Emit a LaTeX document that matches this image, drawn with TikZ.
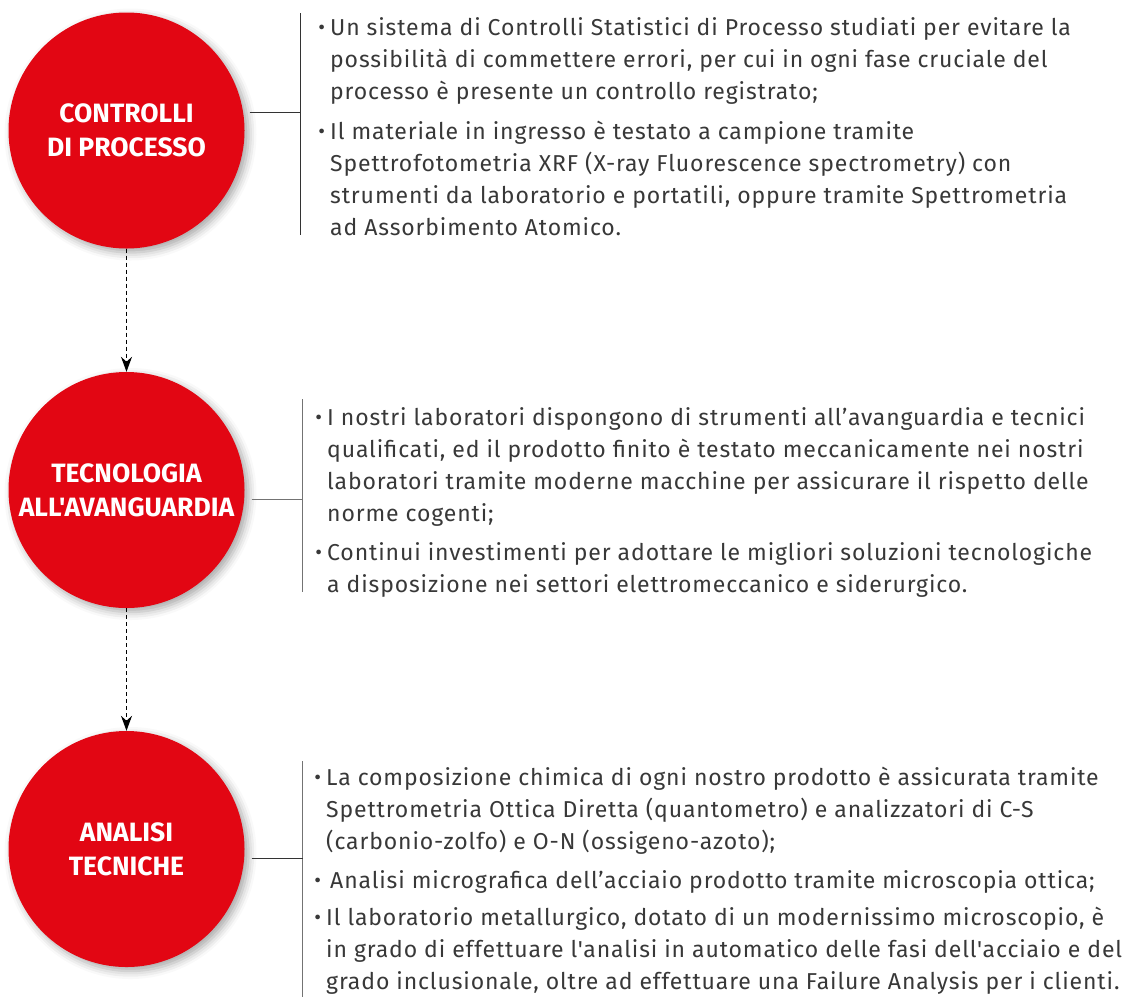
\documentclass[tikz,border=0pt]{standalone}
\usepackage{fontspec}
\setmainfont{Fira Sans}[Ligatures=TeXOff]
\newfontfamily\bodyfont{Fira Sans}[Ligatures=TeXOff, LetterSpace=3.8]
\usetikzlibrary{arrows.meta,shadows.blur}
\definecolor{cred}{RGB}{226,6,19}
\newcommand\bul{\llap{\raisebox{1pt}{\scalebox{0.9}{\textbullet}}\hspace{5pt}}}
\tikzset{
 circ/.style={circle, fill=cred, minimum size=236pt, inner sep=0pt, text=white,
   font=\bfseries\fontsize{26.5}{34}\selectfont, align=center,
   blur shadow={shadow xshift=4pt, shadow yshift=-4pt, shadow blur radius=8pt, shadow opacity=35}},
 item/.style={anchor=base west, inner sep=0pt, align=left, font=\bodyfont\fontsize{23}{32}\selectfont, text=black!78},
 flow/.style={dash pattern=on 4pt off 3pt, line width=1.1pt, -{Stealth[length=15pt,width=11pt]}},
 brk/.style={line width=1pt, draw=black!55}
}
\begin{document}
\begin{tikzpicture}[x=1pt,y=-1pt]
\useasboundingbox (0,0) rectangle (1126,997);
% circles
\node[circ] (c1) at (126.5,130.5) {CONTROLLI\\DI PROCESSO};
\node[circ] (c2) at (126.5,490) {TECNOLOGIA\\ALL'AVANGUARDIA};
\node[circ] (c3) at (126.5,849) {ANALISI\\TECNICHE};
% flow arrows
\draw[flow] (c1.south) -- (c2.north);
\draw[flow] (c2.south) -- (c3.north);
% brackets
\coordinate (v1t) at (300,13);  \coordinate (v1b) at (300,235); \coordinate (h1) at (300,112);
\coordinate (v2t) at (302.5,399); \coordinate (v2b) at (302.5,592); \coordinate (h2) at (302.5,499);
\coordinate (v3t) at (302.5,761); \coordinate (v3b) at (302.5,997); \coordinate (h3) at (302.5,858);
\draw[brk, draw=black!80] (v1t) -- (v1b);
\draw[brk, draw=black!80] ([xshift=5pt]c1.east |- h1) -- (h1);
\draw[brk] (v2t) -- (v2b);
\draw[brk] ([xshift=7pt]c2.east |- h2) -- (h2);
\draw[brk] (v3t) -- (v3b);
\draw[brk, draw=black!80] ([xshift=7pt]c3.east |- h3) -- (h3);
% texts block 1 (anchor = baseline of last line)
\node[item] (t11) at (330,99) {\bul Un sistema di Controlli Statistici di Processo studiati per evitare la\\
possibilità di commettere errori, per cui in ogni fase cruciale del\\
processo è presente un controllo registrato;};
\node[item] (t12) at (330,235) {\bul Il materiale in ingresso è testato a campione tramite\\
Spettrofotometria XRF (X-ray Fluorescence spectrometry) con\\
strumenti da laboratorio e portatili, oppure tramite Spettrometria\\
ad Assorbimento Atomico.};
% block 2
\node[item] (t21) at (327,521) {\bul I nostri laboratori dispongono di strumenti all’avanguardia e tecnici\\
qualificati, ed il prodotto finito è testato meccanicamente nei nostri\\
laboratori tramite moderne macchine per assicurare il rispetto delle\\
norme cogenti;};
\node[item] (t22) at (327,592) {\bul Continui investimenti per adottare le migliori soluzioni tecnologiche\\
a disposizione nei settori elettromeccanico e siderurgico.};
% block 3
\node[item] (t31) at (326,849) {\bul La composizione chimica di ogni nostro prodotto è assicurata tramite\\
Spettrometria Ottica Diretta (quantometro) e analizzatori di C-S\\
(carbonio-zolfo) e O-N (ossigeno-azoto);};
\node[item] (t32) at (330,888) {\llap{\raisebox{1pt}{\scalebox{0.9}{\textbullet}}\hspace{9pt}}Analisi micrografica dell’acciaio prodotto tramite microscopia ottica;};
\node[item] (t33) at (326,989) {\bul Il laboratorio metallurgico, dotato di un modernissimo microscopio, è\\
in grado di effettuare l'analisi in automatico delle fasi dell'acciaio e del\\
grado inclusionale, oltre ad effettuare una Failure Analysis per i clienti.};
\end{tikzpicture}
\end{document}
